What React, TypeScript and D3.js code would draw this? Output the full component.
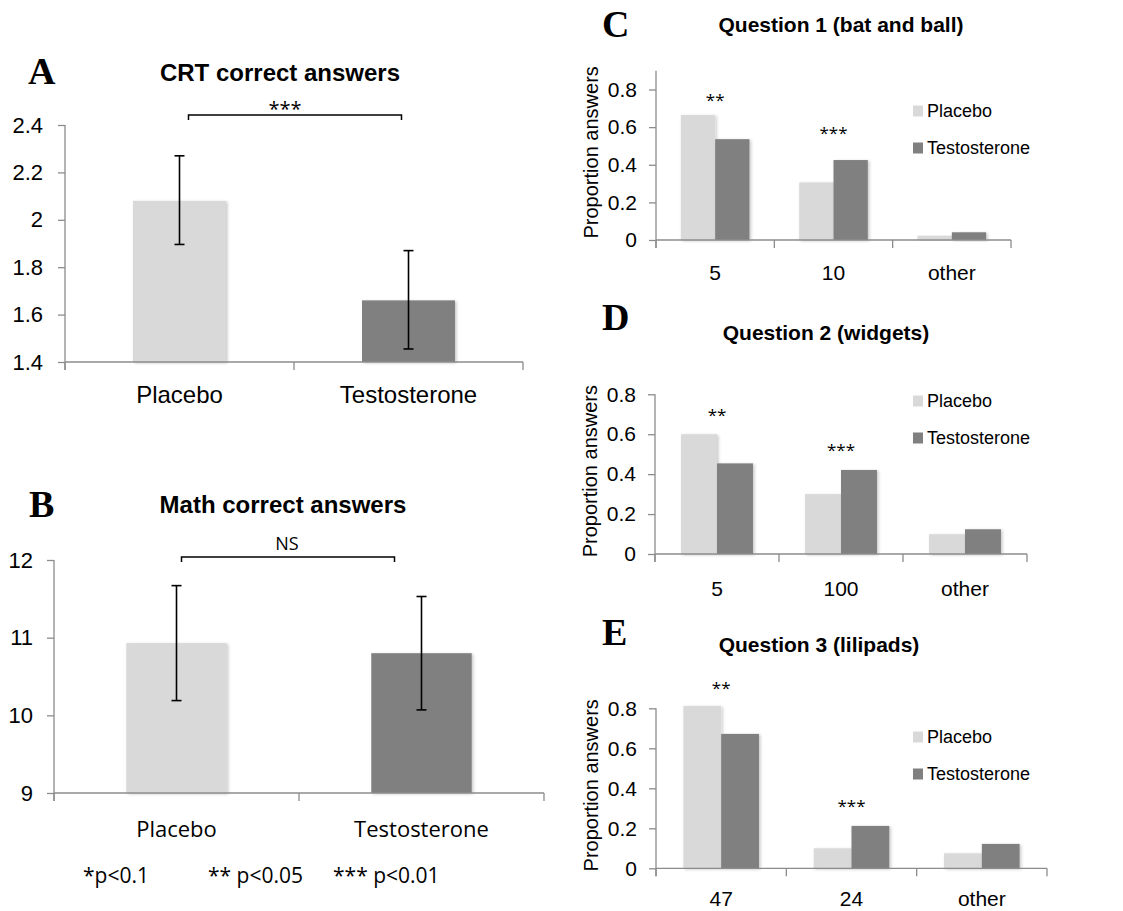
import React, { useEffect, useRef } from 'react';
import * as d3 from 'd3';

// groups
const groups = ['Placebo', 'Testosterone'];

// A: CRT correct answers
const crtMean = [2.08, 1.66];
const crtLow = [1.896, 1.455];
const crtHigh = [2.27, 1.87];
const crtTicks = [1.4, 1.6, 1.8, 2, 2.2, 2.4];

// B: Math correct answers
const mathMean = [10.93, 10.8];
const mathLow = [10.19, 10.07];
const mathHigh = [11.67, 11.53];
const mathTicks = [9, 10, 11, 12];

// C: Question 1
const q1Answers = ['5', '10', 'other'];
const q1Placebo = [0.664, 0.306, 0.023];
const q1Testo = [0.536, 0.425, 0.041];
const q1Stars = ['**', '***', ''];

// D: Question 2
const q2Answers = ['5', '100', 'other'];
const q2Placebo = [0.6, 0.3, 0.099];
const q2Testo = [0.454, 0.421, 0.124];
const q2Stars = ['**', '***', ''];

// E: Question 3
const q3Answers = ['47', '24', 'other'];
const q3Placebo = [0.812, 0.1, 0.075];
const q3Testo = [0.672, 0.212, 0.122];
const q3Stars = ['**', '***', ''];

const propTicks = [0, 0.2, 0.4, 0.6, 0.8];
const pNotes = ['*p<0.1', '** p<0.05', '*** p<0.01'];

const SANS = "'Liberation Sans', Arial, sans-serif";
const HUMAN = "'Open Sans', sans-serif";
const SERIF = "'Liberation Serif', 'Times New Roman', serif";
const COLORS = ['#d9d9d9', '#808080'];
const AXIS = '#8c8c8c';

const fmt = (d: number) => String(+d.toFixed(1));

function styleAxis(ax: any, size: number) {
  ax.selectAll('path').attr('stroke', AXIS).attr('stroke-width', 1.3);
  ax.selectAll('line').attr('stroke', AXIS).attr('stroke-width', 1.3);
  ax.selectAll('text')
    .attr('fill', '#000')
    .style('font-family', SANS)
    .style('font-size', `${size}px`);
}

function bandAxis(g: any, x: any, y0: number) {
  const [x0, x1] = x.range();
  g.append('line')
    .attr('x1', x0).attr('x2', x1)
    .attr('y1', y0).attr('y2', y0)
    .attr('stroke', AXIS).attr('stroke-width', 1.3);
  const edges = [...x.domain().map((d: string) => x(d)), x1];
  g.selectAll('line.edge').data(edges).join('line')
    .attr('class', 'edge')
    .attr('x1', (d: number) => d).attr('x2', (d: number) => d)
    .attr('y1', y0).attr('y2', y0 + 8)
    .attr('stroke', AXIS).attr('stroke-width', 1.3);
}

function drawMeans(svg: any, p: any) {
  const g = svg.append('g');
  const y = d3.scaleLinear().domain(p.domain).range([p.bottom, p.top]);
  const x = d3.scaleBand().domain(groups).range([p.left, p.right]);
  const bw = x.bandwidth();
  const barW = bw * p.barFrac;
  const cx = (d: string) => (x(d) as number) + bw / 2;

  // 柱子
  g.selectAll('rect.bar').data(groups).join('rect')
    .attr('class', 'bar')
    .attr('x', (d: string) => cx(d) - barW / 2)
    .attr('y', (d: string, i: number) => y(p.means[i]))
    .attr('width', barW)
    .attr('height', (d: string, i: number) => y(p.domain[0]) - y(p.means[i]))
    .attr('fill', (d: string, i: number) => COLORS[i])
    .attr('filter', 'url(#shadow)');

  // 坐标轴
  const ax = g.append('g')
    .attr('transform', `translate(${p.left},0)`)
    .call(d3.axisLeft(y).tickValues(p.ticks).tickSize(7).tickSizeOuter(0).tickPadding(p.tickPad).tickFormat(fmt as any));
  styleAxis(ax, p.tickSize);
  ax.select('.domain').attr('d', `M0,${p.bottom + 8}V${p.top}`);
  bandAxis(g, x, p.bottom);

  g.selectAll('text.cat').data(groups).join('text')
    .attr('class', 'cat')
    .attr('x', cx)
    .attr('y', p.bottom + p.labelDy)
    .attr('text-anchor', 'middle')
    .style('font-family', p.labelFont)
    .style('font-size', `${p.labelSize}px`)
    .text((d: string) => d);

  // 误差线
  groups.forEach((d, i) => {
    const c = cx(d);
    g.append('line').attr('x1', c).attr('x2', c)
      .attr('y1', y(p.lows[i])).attr('y2', y(p.highs[i]))
      .attr('stroke', '#000').attr('stroke-width', 1.6);
    [p.lows[i], p.highs[i]].forEach((v: number) => {
      g.append('line').attr('x1', c - 5).attr('x2', c + 5)
        .attr('y1', y(v)).attr('y2', y(v))
        .attr('stroke', '#000').attr('stroke-width', 1.6);
    });
  });

  // 显著性括号
  const bx1 = cx(groups[0]) + p.bracket.l;
  const bx2 = cx(groups[1]) + p.bracket.r;
  const by = p.top + p.bracket.dy;
  g.append('path')
    .attr('d', `M${bx1},${by + 5}V${by}H${bx2}V${by + 5}`)
    .attr('fill', 'none').attr('stroke', '#000').attr('stroke-width', 1.5);
  g.append('text')
    .attr('x', (bx1 + bx2) / 2 + p.bracket.tx)
    .attr('y', by + p.bracket.ty)
    .attr('text-anchor', 'middle')
    .style('font-family', HUMAN)
    .style('font-size', `${p.bracket.size}px`)
    .text(p.bracket.text);

  g.append('text')
    .attr('x', p.titleX).attr('y', p.titleY)
    .attr('text-anchor', 'middle')
    .style('font-family', SANS).style('font-weight', 'bold')
    .style('font-size', '24px')
    .text(p.title);

  g.append('text')
    .attr('x', p.letterX).attr('y', p.letterY)
    .style('font-family', SERIF).style('font-weight', 'bold')
    .style('font-size', '38px')
    .text(p.letter);
}

function drawProps(svg: any, p: any) {
  const g = svg.append('g');
  const y = d3.scaleLinear().domain([0, p.max]).range([p.bottom, p.top]);
  const x = d3.scaleBand().domain(p.answers).range([p.left, p.right]);
  const bw = x.bandwidth();
  const frac = 0.58;
  const inner = d3.scaleBand().domain(groups).range([bw * (1 - frac) / 2, bw * (1 + frac) / 2]);
  const series = [p.placebo, p.testo];

  groups.forEach((grp, j) => {
    g.selectAll(`rect.s${j}`).data(p.answers).join('rect')
      .attr('class', `s${j}`)
      .attr('x', (d: string) => (x(d) as number) + (inner(grp) as number))
      .attr('y', (d: string, i: number) => y(series[j][i]))
      .attr('width', inner.bandwidth())
      .attr('height', (d: string, i: number) => y(0) - y(series[j][i]))
      .attr('fill', COLORS[j])
      .attr('filter', 'url(#shadow)');
  });

  const ax = g.append('g')
    .attr('transform', `translate(${p.left},0)`)
    .call(d3.axisLeft(y).tickValues(propTicks).tickSize(7).tickSizeOuter(0).tickPadding(12).tickFormat(fmt as any));
  styleAxis(ax, 21);
  ax.select('.domain').attr('d', `M0,${p.bottom + 8}V${p.top}`);
  bandAxis(g, x, p.bottom);

  g.selectAll('text.cat').data(p.answers).join('text')
    .attr('class', 'cat')
    .attr('x', (d: string) => (x(d) as number) + bw / 2)
    .attr('y', p.bottom + p.labelDy)
    .attr('text-anchor', 'middle')
    .style('font-family', SANS).style('font-size', '21px')
    .text((d: string) => d);

  // 星号
  g.selectAll('text.star').data(p.answers).join('text')
    .attr('class', 'star')
    .attr('x', (d: string) => (x(d) as number) + bw / 2)
    .attr('y', (d: string, i: number) => y(Math.max(p.placebo[i], p.testo[i])) - (p.starGap[i] || 13))
    .attr('text-anchor', 'middle')
    .style('font-family', HUMAN).style('font-size', '17px')
    .text((d: string, i: number) => p.stars[i]);

  g.append('text')
    .attr('transform', `translate(${p.left - 65},${(p.top + p.bottom) / 2 - 3}) rotate(-90)`)
    .attr('text-anchor', 'middle')
    .attr('dy', '0.35em')
    .style('font-family', SANS).style('font-size', '20px')
    .text('Proportion answers');

  // 图例
  const lg = g.append('g');
  groups.forEach((grp, j) => {
    const ly = p.legendY + j * 37;
    lg.append('rect').attr('x', 913).attr('y', ly - 5.5).attr('width', 10).attr('height', 11).attr('fill', COLORS[j]);
    lg.append('text').attr('x', 927).attr('y', ly).attr('dy', '0.35em')
      .style('font-family', SANS).style('font-size', '18px').text(grp);
  });

  g.append('text')
    .attr('x', p.titleX).attr('y', p.titleY)
    .attr('text-anchor', 'middle')
    .style('font-family', SANS).style('font-weight', 'bold')
    .style('font-size', '21px')
    .text(p.title);

  g.append('text')
    .attr('x', 602).attr('y', p.letterY)
    .style('font-family', SERIF).style('font-weight', 'bold')
    .style('font-size', '38px')
    .text(p.letter);
}

export default function App() {
  const ref = useRef<SVGSVGElement>(null);

  useEffect(() => {
    document.body.style.margin = '0';
    const svg = d3.select(ref.current);
    svg.selectAll('*').remove();

    const defs = svg.append('defs');
    const f = defs.append('filter').attr('id', 'shadow').attr('x', '-10%').attr('y', '-10%').attr('width', '130%').attr('height', '130%');
    f.append('feDropShadow').attr('dx', 1.5).attr('dy', 1).attr('stdDeviation', 1.5).attr('flood-color', '#000').attr('flood-opacity', 0.22);

    drawMeans(svg, {
      left: 65, right: 523, top: 125, bottom: 362, domain: [1.4, 2.4], ticks: crtTicks,
      means: crtMean, lows: crtLow, highs: crtHigh, barFrac: 0.406,
      tickSize: 22, tickPad: 15, labelFont: SANS, labelSize: 24, labelDy: 41,
      bracket: { l: 9, r: -7, dy: -10, tx: -10, ty: 1, size: 20, text: '***' },
      title: 'CRT correct answers', titleX: 280, titleY: 81, letter: 'A', letterX: 28, letterY: 84,
    });

    drawMeans(svg, {
      left: 54, right: 544, top: 560, bottom: 793, domain: [9, 12], ticks: mathTicks,
      means: mathMean, lows: mathLow, highs: mathHigh, barFrac: 0.41,
      tickSize: 22, tickPad: 14, labelFont: HUMAN, labelSize: 22, labelDy: 44,
      bracket: { l: 5, r: -27, dy: -3, tx: -1, ty: -7, size: 18, text: 'NS' },
      title: 'Math correct answers', titleX: 283, titleY: 513, letter: 'B', letterX: 29, letterY: 517,
    });

    drawProps(svg, {
      left: 656, right: 1011, top: 70.7, bottom: 240, max: 0.9, labelDy: 40, starGap: [9, 21],
      answers: q1Answers, placebo: q1Placebo, testo: q1Testo, stars: q1Stars,
      legendY: 111, title: 'Question 1 (bat and ball)', titleX: 841, titleY: 32, letter: 'C', letterY: 37,
    });

    drawProps(svg, {
      left: 655, right: 1027, top: 394.3, bottom: 554, max: 0.8, labelDy: 42, starGap: [13, 14],
      answers: q2Answers, placebo: q2Placebo, testo: q2Testo, stars: q2Stars,
      legendY: 401, title: 'Question 2 (widgets)', titleX: 826, titleY: 340, letter: 'D', letterY: 330,
    });

    drawProps(svg, {
      left: 656, right: 1047, top: 708.3, bottom: 868.3, max: 0.8, labelDy: 37.5, starGap: [12, 14],
      answers: q3Answers, placebo: q3Placebo, testo: q3Testo, stars: q3Stars,
      legendY: 737, title: 'Question 3 (lilipads)', titleX: 819, titleY: 652, letter: 'E', letterY: 645,
    });

    // p 值说明
    const noteX = [83, 208, 333];
    svg.selectAll('text.note').data(pNotes).join('text')
      .attr('class', 'note')
      .attr('x', (d: string, i: number) => noteX[i])
      .attr('y', 883)
      .style('font-family', HUMAN).style('font-size', '21px')
      .text((d: string) => d);
  }, []);

  return <svg ref={ref} width={1123} height={911} style={{ display: 'block', background: '#fff' }} />;
}
